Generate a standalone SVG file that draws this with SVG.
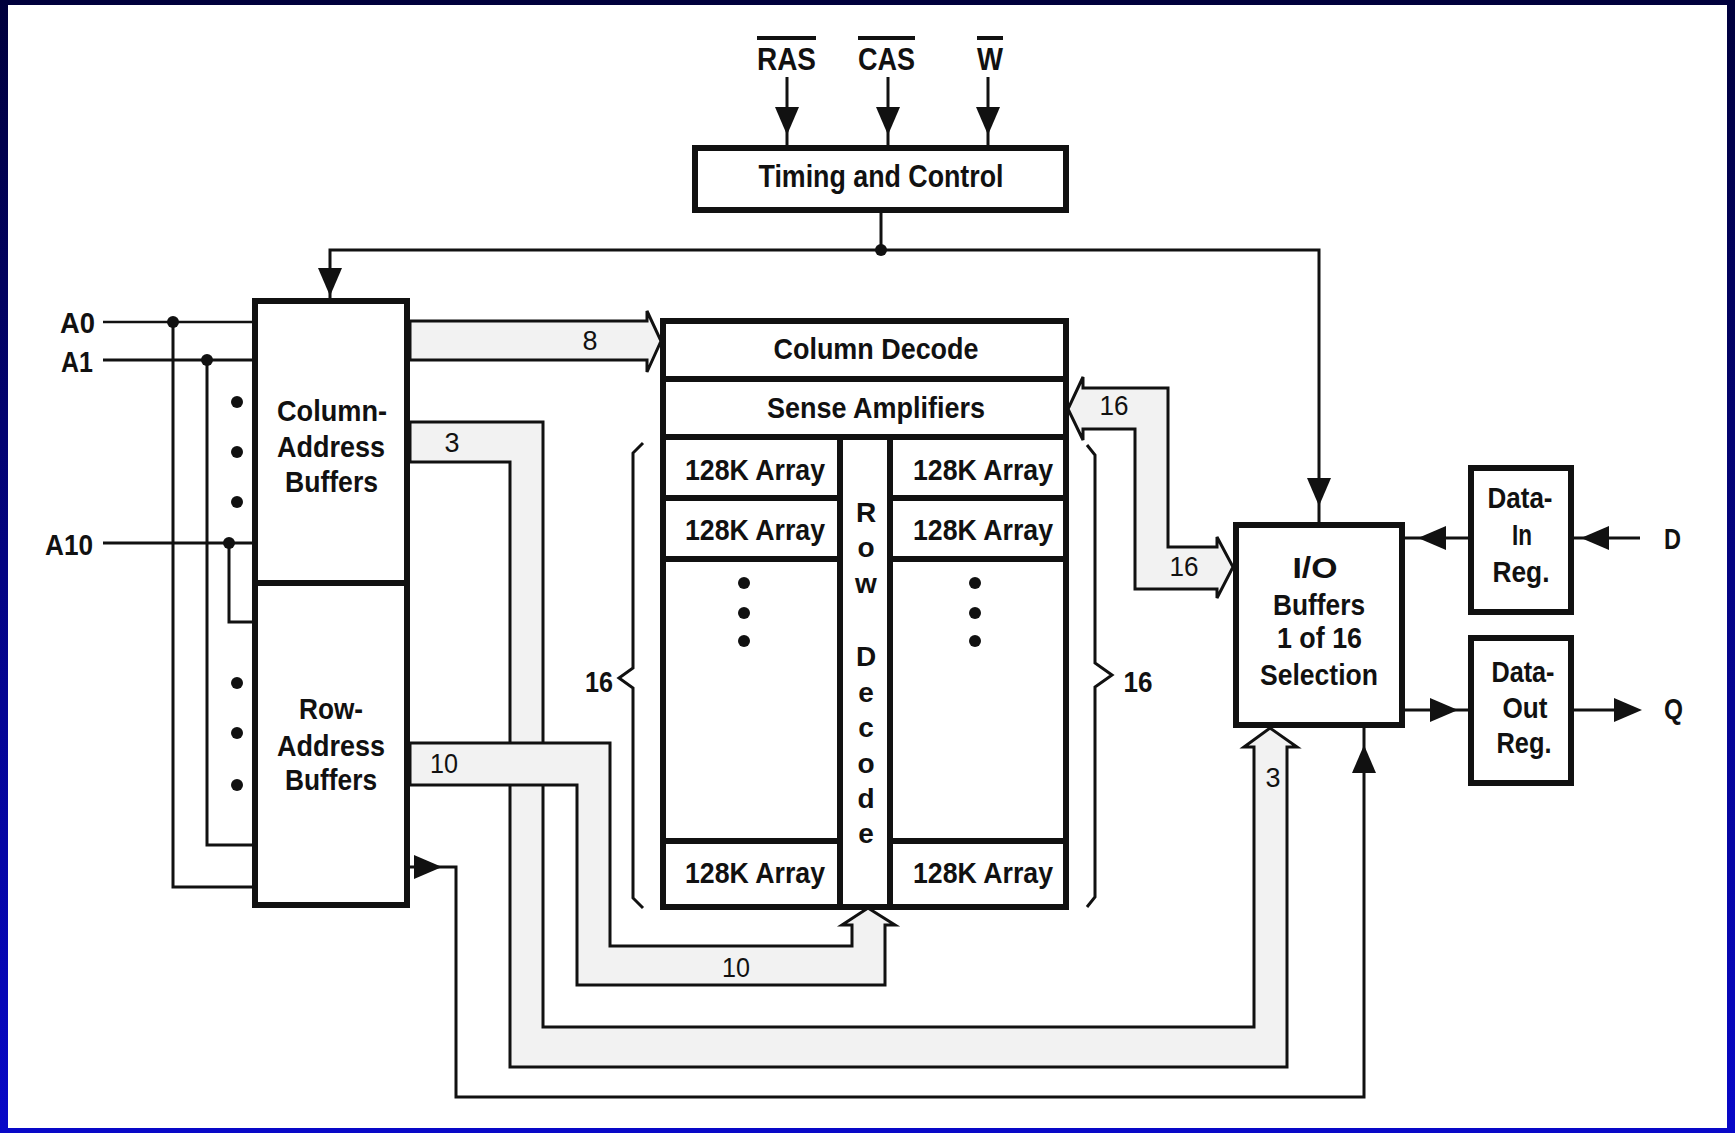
<svg xmlns="http://www.w3.org/2000/svg" xmlns:xlink="http://www.w3.org/1999/xlink" width="1735" height="1133" viewBox="0 0 1735 1133">
<defs>
<linearGradient id="frame" x1="0" y1="0" x2="0" y2="1">
<stop offset="0" stop-color="#00003c"/>
<stop offset="1" stop-color="#0808c8"/>
</linearGradient>
<path id="ah" d="M0,0 L-28,-12 L-28,12 Z" fill="#111"/>
<style>
.box{fill:#fff;stroke:#111;stroke-width:6}
.ln{fill:none;stroke:#111;stroke-width:3}
.bus{fill:#f2f2f2;stroke:#111;stroke-width:3;stroke-linejoin:miter}
.thk{fill:none;stroke:#111;stroke-width:6}
.t{font-family:"Liberation Sans",Arial,sans-serif;font-weight:bold;font-size:30px;fill:#111;text-anchor:middle}
.n{font-weight:normal;font-size:28px}
.dot{fill:#111}
</style>
</defs>
<rect x="0" y="0" width="1735" height="1133" fill="url(#frame)"/>
<rect x="8" y="5" width="1719" height="1123" fill="#fff"/>

<g id="connectors">
<!-- control inputs -->
<line class="ln" x1="787" y1="77" x2="787" y2="147"/>
<line class="ln" x1="888" y1="77" x2="888" y2="147"/>
<line class="ln" x1="988" y1="77" x2="988" y2="147"/>
<use href="#ah" transform="translate(787,135) rotate(90)"/>
<use href="#ah" transform="translate(888,135) rotate(90)"/>
<use href="#ah" transform="translate(988,135) rotate(90)"/>
<!-- timing distribution -->
<polyline class="ln" points="881,210 881,250"/>
<polyline class="ln" points="330,298 330,250 1319,250 1319,522"/>
<circle class="dot" cx="881" cy="250" r="6"/>
<use href="#ah" transform="translate(330,296) rotate(90)"/>
<use href="#ah" transform="translate(1319,506) rotate(90)"/>
<!-- address inputs -->
<line class="ln" x1="103" y1="322" x2="252" y2="322" style="stroke-width:2.5"/>
<line class="ln" x1="103" y1="360" x2="252" y2="360"/>
<line class="ln" x1="103" y1="543" x2="252" y2="543"/>
<polyline class="ln" points="173,322 173,887 252,887"/>
<polyline class="ln" points="207,360 207,845 252,845"/>
<polyline class="ln" points="229,543 229,622 252,622"/>
<circle class="dot" cx="173" cy="322" r="6"/>
<circle class="dot" cx="207" cy="360" r="6"/>
<circle class="dot" cx="229" cy="543" r="6"/>
<circle class="dot" cx="237" cy="402" r="6"/>
<circle class="dot" cx="237" cy="452" r="6"/>
<circle class="dot" cx="237" cy="502" r="6"/>
<circle class="dot" cx="237" cy="683" r="6"/>
<circle class="dot" cx="237" cy="733" r="6"/>
<circle class="dot" cx="237" cy="785" r="6"/>
<!-- 8-bit bus to column decode -->
<path class="bus" d="M410,321 L647,321 L647,311 L661,341 L647,372 L647,360 L410,360 Z"/>
<text class="t n" x="590" y="350" textLength="15" lengthAdjust="spacingAndGlyphs">8</text>
<!-- 3-bit bus to I/O -->
<path class="bus" d="M410,422 L543,422 L543,1027 L1254,1027 L1254,747 L1244,747 L1270,728 L1297,747 L1287,747 L1287,1067 L510,1067 L510,462 L410,462 Z"/>
<text class="t n" x="452" y="452" textLength="15" lengthAdjust="spacingAndGlyphs">3</text>
<text class="t n" x="1273" y="787" textLength="15" lengthAdjust="spacingAndGlyphs">3</text>
<!-- 10-bit bus to row decode -->
<path class="bus" d="M410,743 L610,743 L610,946 L852,946 L852,925 L842,925 L868,908 L895,925 L885,925 L885,985 L577,985 L577,785 L410,785 Z"/>
<text class="t n" x="444" y="773" textLength="28" lengthAdjust="spacingAndGlyphs">10</text>
<text class="t n" x="736" y="977" textLength="28" lengthAdjust="spacingAndGlyphs">10</text>
<!-- 16-bit bus sense amps <-> I/O -->
<path class="bus" d="M1083,388 L1168,388 L1168,547 L1217,547 L1217,537 L1233,567 L1217,598 L1217,589 L1135,589 L1135,429 L1083,429 L1083,440 L1068,409 L1083,377 Z"/>
<text class="t n" x="1114" y="415" textLength="29" lengthAdjust="spacingAndGlyphs">16</text>
<text class="t n" x="1184" y="576" textLength="29" lengthAdjust="spacingAndGlyphs">16</text>
<!-- row buffer to I/O loop -->
<polyline class="ln" points="410,867 456,867 456,1097 1364,1097 1364,728"/>
<use href="#ah" transform="translate(442,867)"/>
<use href="#ah" transform="translate(1364,745) rotate(-90)"/>
<!-- data in/out -->
<line class="ln" x1="1405" y1="538" x2="1468" y2="538"/>
<use href="#ah" transform="translate(1418,538) rotate(180)"/>
<line class="ln" x1="1574" y1="538" x2="1640" y2="538"/>
<use href="#ah" transform="translate(1581,538) rotate(180)"/>
<line class="ln" x1="1405" y1="710" x2="1468" y2="710"/>
<use href="#ah" transform="translate(1458,710)"/>
<line class="ln" x1="1574" y1="710" x2="1630" y2="710"/>
<use href="#ah" transform="translate(1642,710)"/>
<!-- braces -->
<path class="ln" d="M643,443 L633,453 L633,668 L619,678 L633,688 L633,898 L643,908"/>
<text class="t" x="599" y="692" textLength="28" lengthAdjust="spacingAndGlyphs">16</text>
<path class="ln" d="M1087,445 L1095,455 L1095,663 L1112,675 L1095,687 L1095,897 L1087,907"/>
<text class="t" x="1138" y="692" textLength="29" lengthAdjust="spacingAndGlyphs">16</text>
</g>

<g id="in-ras">
<line x1="757" y1="38" x2="816" y2="38" stroke="#111" stroke-width="4"/>
<text class="t" x="786.5" y="70" style="font-size:32px" textLength="59" lengthAdjust="spacingAndGlyphs">RAS</text>
</g>
<g id="in-cas">
<line x1="858" y1="38" x2="915" y2="38" stroke="#111" stroke-width="4"/>
<text class="t" x="886.5" y="70" style="font-size:32px" textLength="57" lengthAdjust="spacingAndGlyphs">CAS</text>
</g>
<g id="in-w">
<line x1="977" y1="38" x2="1003" y2="38" stroke="#111" stroke-width="4"/>
<text class="t" x="990" y="70" style="font-size:32px" textLength="26" lengthAdjust="spacingAndGlyphs">W</text>
</g>

<g id="timing">
<rect class="box" x="695" y="148" width="371" height="62"/>
<text class="t" x="881" y="187" style="font-size:31px" textLength="245" lengthAdjust="spacingAndGlyphs">Timing and Control</text>
</g>

<g id="in-a">
<text class="t" x="77.5" y="333" textLength="35" lengthAdjust="spacingAndGlyphs">A0</text>
<text class="t" x="77" y="372" textLength="32" lengthAdjust="spacingAndGlyphs">A1</text>
<text class="t" x="69" y="555" textLength="48" lengthAdjust="spacingAndGlyphs">A10</text>
</g>

<g id="column-address-buffers">
<rect class="box" x="255" y="301" width="152" height="282"/>
<text class="t" x="332" y="421" textLength="110" lengthAdjust="spacingAndGlyphs">Column-</text>
<text class="t" x="331" y="457" textLength="108" lengthAdjust="spacingAndGlyphs">Address</text>
<text class="t" x="331.5" y="492" textLength="93" lengthAdjust="spacingAndGlyphs">Buffers</text>
</g>
<g id="row-address-buffers">
<rect class="box" x="255" y="583" width="152" height="322"/>
<text class="t" x="331" y="719" textLength="64" lengthAdjust="spacingAndGlyphs">Row-</text>
<text class="t" x="331" y="756" textLength="108" lengthAdjust="spacingAndGlyphs">Address</text>
<text class="t" x="331" y="790" textLength="92" lengthAdjust="spacingAndGlyphs">Buffers</text>
</g>

<g id="memory-block">
<rect class="box" x="663" y="321" width="403" height="586"/>
<g id="column-decode">
<text class="t" x="876" y="359" textLength="205" lengthAdjust="spacingAndGlyphs">Column Decode</text>
</g>
<line class="thk" x1="663" y1="379" x2="1066" y2="379"/>
<g id="sense-amplifiers">
<text class="t" x="876" y="418" textLength="218" lengthAdjust="spacingAndGlyphs">Sense Amplifiers</text>
</g>
<line class="thk" x1="663" y1="437" x2="1066" y2="437"/>
<g id="row-decode">
<line class="thk" x1="840" y1="437" x2="840" y2="907"/>
<line class="thk" x1="890" y1="437" x2="890" y2="907"/>
<text class="t" x="866" y="522" style="font-size:28px">R</text>
<text class="t" x="866" y="557" style="font-size:28px">o</text>
<text class="t" x="866" y="593" style="font-size:28px">w</text>
<text class="t" x="866" y="666" style="font-size:28px">D</text>
<text class="t" x="866" y="702" style="font-size:28px">e</text>
<text class="t" x="866" y="737" style="font-size:28px">c</text>
<text class="t" x="866" y="773" style="font-size:28px">o</text>
<text class="t" x="866" y="808" style="font-size:28px">d</text>
<text class="t" x="866" y="843" style="font-size:28px">e</text>
</g>
<g id="arrays-left">
<line class="thk" x1="663" y1="498" x2="840" y2="498"/>
<line class="thk" x1="663" y1="559" x2="840" y2="559"/>
<line class="thk" x1="663" y1="841" x2="840" y2="841"/>
<text class="t" x="755" y="480" textLength="140" lengthAdjust="spacingAndGlyphs">128K Array</text>
<text class="t" x="755" y="540" textLength="140" lengthAdjust="spacingAndGlyphs">128K Array</text>
<text class="t" x="755" y="883" textLength="140" lengthAdjust="spacingAndGlyphs">128K Array</text>
<circle class="dot" cx="744" cy="583" r="6"/>
<circle class="dot" cx="744" cy="613" r="6"/>
<circle class="dot" cx="744" cy="641" r="6"/>
</g>
<g id="arrays-right">
<line class="thk" x1="890" y1="498" x2="1066" y2="498"/>
<line class="thk" x1="890" y1="559" x2="1066" y2="559"/>
<line class="thk" x1="890" y1="841" x2="1066" y2="841"/>
<text class="t" x="983" y="480" textLength="140" lengthAdjust="spacingAndGlyphs">128K Array</text>
<text class="t" x="983" y="540" textLength="140" lengthAdjust="spacingAndGlyphs">128K Array</text>
<text class="t" x="983" y="883" textLength="140" lengthAdjust="spacingAndGlyphs">128K Array</text>
<circle class="dot" cx="975" cy="583" r="6"/>
<circle class="dot" cx="975" cy="613" r="6"/>
<circle class="dot" cx="975" cy="641" r="6"/>
</g>
</g>

<g id="io-buffers">
<rect class="box" x="1236" y="525" width="166" height="200"/>
<text class="t" x="1315" y="578" textLength="45" lengthAdjust="spacingAndGlyphs">I/O</text>
<text class="t" x="1319" y="615" textLength="92" lengthAdjust="spacingAndGlyphs">Buffers</text>
<text class="t" x="1319.5" y="648" textLength="85" lengthAdjust="spacingAndGlyphs">1 of 16</text>
<text class="t" x="1319" y="685" textLength="118" lengthAdjust="spacingAndGlyphs">Selection</text>
</g>

<g id="data-in-reg">
<rect class="box" x="1471" y="468" width="100" height="144"/>
<text class="t" x="1520" y="508" textLength="65" lengthAdjust="spacingAndGlyphs">Data-</text>
<text class="t" x="1522" y="545" textLength="20" lengthAdjust="spacingAndGlyphs">In</text>
<text class="t" x="1521" y="582" textLength="57" lengthAdjust="spacingAndGlyphs">Reg.</text>
</g>

<g id="data-out-reg">
<rect class="box" x="1471" y="638" width="100" height="145"/>
<text class="t" x="1523" y="682" textLength="63" lengthAdjust="spacingAndGlyphs">Data-</text>
<text class="t" x="1525" y="718" textLength="45" lengthAdjust="spacingAndGlyphs">Out</text>
<text class="t" x="1524" y="753" textLength="55" lengthAdjust="spacingAndGlyphs">Reg.</text>
</g>

<g id="in-d">
<text class="t" x="1672.5" y="549" textLength="17" lengthAdjust="spacingAndGlyphs">D</text>
</g>
<g id="out-q">
<text class="t" x="1673.5" y="719" textLength="19" lengthAdjust="spacingAndGlyphs">Q</text>
</g>
</svg>
